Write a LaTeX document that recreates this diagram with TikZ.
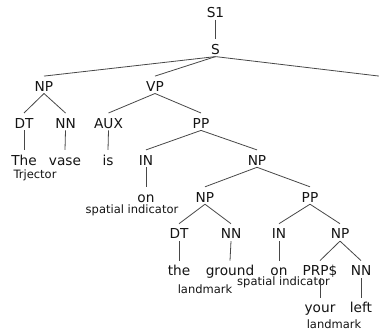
\documentclass[tikz,border=0pt]{standalone}
\usepackage{fontspec}
\setmainfont{DejaVu Sans}
\begin{document}
\begin{tikzpicture}[x=1pt,y=-1pt,
  tn/.style={anchor=base, inner sep=0pt, text height=15pt, text depth=2pt,
             font=\fontsize{13.7}{14}\selectfont, text=black!92},
  lab/.style={anchor=base, inner sep=0pt, font=\fontsize{11.5}{12}\selectfont, text=black!92},
  br/.style={draw=black!72, line width=0.8pt}]
\useasboundingbox (0,0) rectangle (379,331);
% row 0-1
\node[tn] (s1) at (215.5,17.5) {S1};
\node[tn] (s) at (215.5,54.4) {S};
% row 2
\node[tn] (np1) at (44,91.3) {NP};
\node[tn] (vp) at (155,91.3) {VP};
% row 3
\node[tn] (dt1) at (24,128.2) {DT};
\node[tn] (nn1) at (65.5,128.2) {NN};
\node[tn] (aux) at (108.5,128.2) {AUX};
\node[tn] (pp1) at (201,128.2) {PP};
% row 4
\node[tn] (wthe) at (24,165.1) {The};
\node[tn] (wvase) at (65,165.1) {vase};
\node[tn] (wis) at (108,165.1) {is};
\node[tn] (in1) at (146,165.1) {IN};
\node[tn] (np2) at (257,165.1) {NP};
% row 5
\node[tn] (won1) at (146,202) {on};
\node[tn] (np3) at (205,202) {NP};
\node[tn] (pp2) at (310,202) {PP};
% row 6
\node[tn] (dt2) at (179,238.9) {DT};
\node[tn] (nn2) at (231,238.9) {NN};
\node[tn] (in2) at (279,238.9) {IN};
\node[tn] (np4) at (340,238.9) {NP};
% row 7
\node[tn] (wthe2) at (179,275.8) {the};
\node[tn] (wground) at (230,275.8) {ground};
\node[tn] (won2) at (279,275.8) {on};
\node[tn] (prp) at (320,275.8) {PRP\$};
\node[tn] (nn3) at (361,275.8) {NN};
% row 8
\node[tn] (wyour) at (320,312.7) {your};
\node[tn] (wleft) at (361,312.7) {left};
% labels
\node[lab] (l1) at (35,178.5) {Trjector};
\node[lab] (l2) at (132,213) {spatial indicator};
\node[lab] (l3) at (205,293.5) {landmark};
\node[lab] (l4) at (283.5,285.5) {spatial indicator};
\node[lab] (l5) at (334,328) {landmark};
\coordinate (sr) at (380,76.2);
% branches
\draw[br] (s1.south) -- (s.north);
\draw[br] (s.south) -- (np1.north);
\draw[br] (s.south) -- (vp.north);
\draw[br] (s.south) -- (sr);
\draw[br] (np1.south) -- (dt1.north);
\draw[br] (np1.south) -- (nn1.north);
\draw[br] (dt1.south) -- (wthe.north);
\draw[br] (nn1.south) -- (wvase.north);
\draw[br] (vp.south) -- (aux.north);
\draw[br] (vp.south) -- (pp1.north);
\draw[br] (aux.south) -- (wis.north);
\draw[br] (pp1.south) -- (in1.north);
\draw[br] (pp1.south) -- (np2.north);
\draw[br] (in1.south) -- (won1.north);
\draw[br] (np2.south) -- (np3.north);
\draw[br] (np2.south) -- (pp2.north);
\draw[br] (np3.south) -- (dt2.north);
\draw[br] (np3.south) -- (nn2.north);
\draw[br] (dt2.south) -- (wthe2.north);
\draw[br] (nn2.south) -- (wground.north);
\draw[br] (pp2.south) -- (in2.north);
\draw[br] (pp2.south) -- (np4.north);
\draw[br] (in2.south) -- (won2.north);
\draw[br] (np4.south) -- (prp.north);
\draw[br] (np4.south) -- (nn3.north);
\draw[br] (prp.south) -- (wyour.north);
\draw[br] (nn3.south) -- (wleft.north);
\end{tikzpicture}
\end{document}
